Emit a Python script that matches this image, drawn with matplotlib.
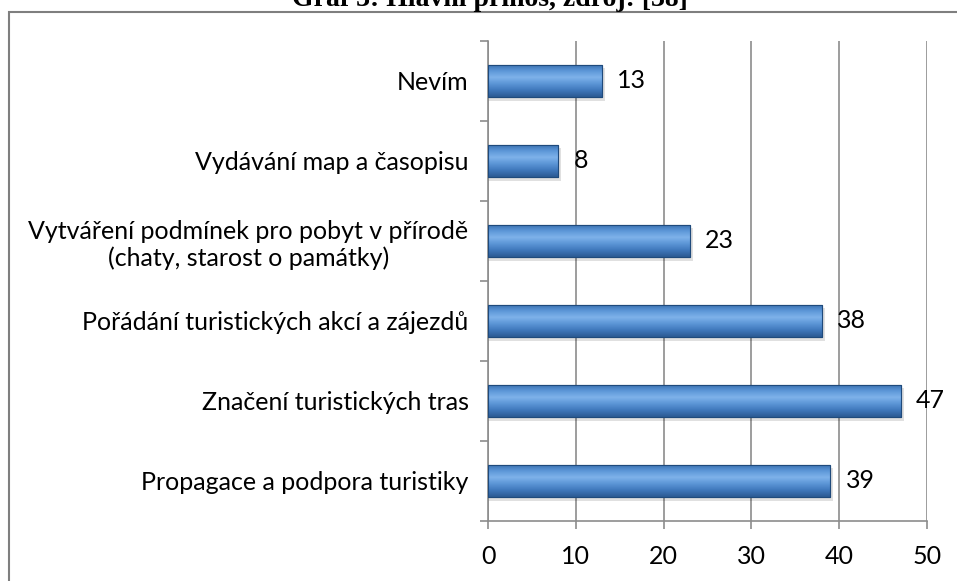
import numpy as np
import matplotlib
matplotlib.use("Agg")
import matplotlib.pyplot as plt
from matplotlib.patches import Rectangle
from matplotlib.colors import LinearSegmentedColormap

# data, bottom to top as drawn
categories = [
    "Propagace a podpora turistiky",
    "Značení turistických tras",
    "Pořádání turistických akcí a zájezdů",
    "Vytváření podmínek pro pobyt v přírodě\n(chaty, starost o památky)",
    "Vydávání map a časopisu",
    "Nevím",
]
values = [39, 47, 38, 23, 8, 13]
xticks = [0, 10, 20, 30, 40, 50]

title = "Graf 3: Hlavní přínos, zdroj: [38]"

plt.rcParams['font.family'] = ['Lato', 'DejaVu Sans']

fig = plt.figure(figsize=(9.57, 5.81), dpi=100)
ax = fig.add_axes([488/957, 1 - 521/581, (927 - 488)/957, (521 - 41)/581])

grey = "#8c8c8c"
pos = np.arange(len(categories))
bh = 0.41
fs = 18

# gradient colours for the bevelled bars
cmap = LinearSegmentedColormap.from_list(
    "bar", ["#2c5a93", "#3f77bb", "#5b95d6", "#7eb2ea", "#5c97d8", "#3a6fae"])
grad = np.linspace(0, 1, 64).reshape(-1, 1)

bars = ax.barh(pos, values, height=bh, color="#4a84c8", edgecolor="#1f4a7c",
               linewidth=0.8, zorder=3)
for b in bars:
    x0, y0 = b.get_x(), b.get_y()
    w, h = b.get_width(), b.get_height()
    # soft shadow
    ax.add_patch(Rectangle((x0, y0 - 0.04), w + 0.35, h, facecolor="#000000",
                           alpha=0.12, linewidth=0, zorder=2))
    im = ax.imshow(grad, cmap=cmap, aspect="auto", origin="lower",
                   extent=(x0, x0 + w, y0, y0 + h), zorder=3.5)
    im.set_clip_path(b)
    ax.add_patch(Rectangle((x0, y0), w, h, facecolor="none",
                           edgecolor="#1f4a7c", linewidth=0.8, zorder=4))

for p, v in zip(pos, values):
    ax.annotate(str(v), (v, p), xytext=(11, 0), textcoords="offset points",
                va="center", ha="left", fontsize=fs, color="black", zorder=5)

ax.set_xlim(0, 50)
ax.set_ylim(-0.5, len(categories) - 0.5)
ax.set_xticks(xticks)
ax.set_xticklabels([str(t) for t in xticks], fontsize=fs)
ax.set_yticks(pos)
ax.set_yticklabels(categories, fontsize=fs, ha="right", multialignment="center")
ax.set_yticks(np.arange(-0.5, len(categories), 1), minor=True)
ax.tick_params(axis="y", which="major", length=0, pad=14)
ax.tick_params(axis="y", which="minor", length=6, width=1.2, color=grey,
               direction="out")
ax.tick_params(axis="x", length=6, width=1.2, color=grey, direction="out",
               pad=11)

ax.grid(axis="x", color=grey, linewidth=1.2, zorder=0)
ax.set_axisbelow(True)
for s in ["top", "right"]:
    ax.spines[s].set_visible(False)
for s in ["left", "bottom"]:
    ax.spines[s].set_color(grey)
    ax.spines[s].set_linewidth(1.2)

# outer frame of the chart object, cut by the image edge
fig.add_artist(Rectangle((9/957, -0.1), 1.1, 1.1 - 12/581, transform=fig.transFigure,
                         facecolor="none", edgecolor="#7f7f7f", linewidth=1.5))

# caption sitting above, only its lower part visible
fig.text(490/957, 1 - 6/581, title, ha="center", va="baseline", fontsize=20,
         fontweight="bold", family=["Liberation Serif", "DejaVu Serif"])

fig.savefig("out.png", dpi=100)
